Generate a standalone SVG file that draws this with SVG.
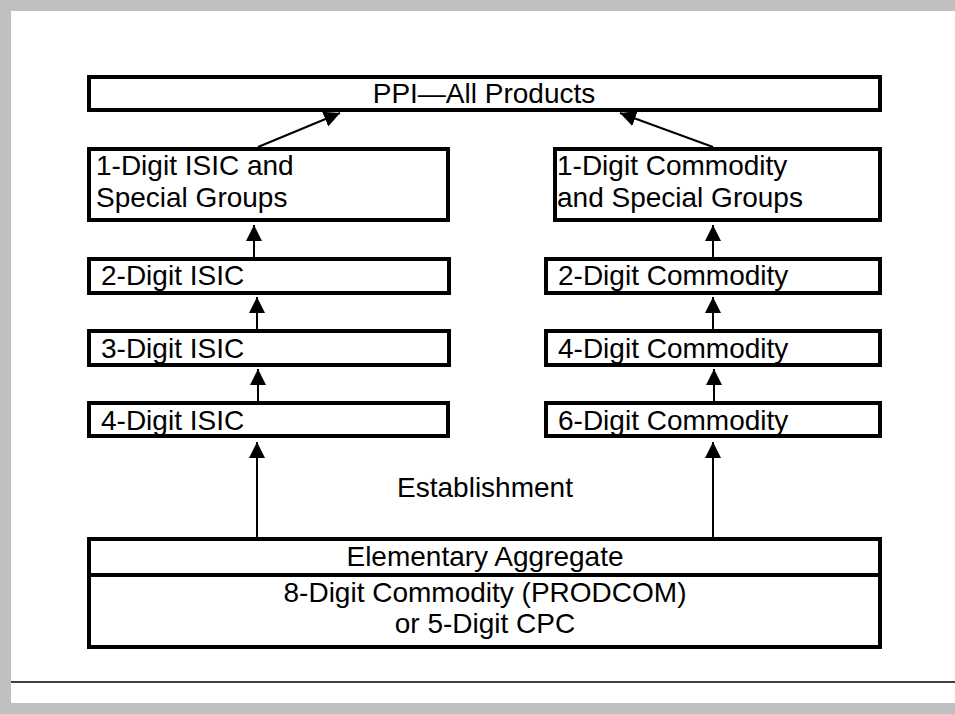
<svg xmlns="http://www.w3.org/2000/svg" width="955" height="714" viewBox="0 0 955 714">
<defs>
<style>
.box{fill:#fff;stroke:#000;stroke-width:4}
.t{font-family:"Liberation Sans",Arial,sans-serif;font-size:28px;fill:#000}
.c{text-anchor:middle}
.con{stroke:#000;stroke-width:2;fill:none;marker-end:url(#ah)}
</style>
<marker id="ah" markerUnits="userSpaceOnUse" markerWidth="16" markerHeight="16" viewBox="0 0 16 16" refX="16" refY="8" orient="auto">
<path d="M0,0 L16,8 L0,16 Z" fill="#000"/>
</marker>
</defs>
<rect x="0" y="0" width="955" height="714" fill="#fff"/>
<g id="frame">
<rect x="0" y="0" width="955" height="11" fill="#c0c0c0"/>
<rect x="0" y="0" width="11" height="714" fill="#c0c0c0"/>
<rect x="0" y="703" width="955" height="11" fill="#c0c0c0"/>
<line x1="11" y1="682" x2="955" y2="682" stroke="#000" stroke-width="1.5"/>
</g>
<g id="connectors">
<line class="con" x1="258" y1="147" x2="340" y2="113"/>
<line class="con" x1="713" y1="147" x2="620" y2="113"/>
<line class="con" x1="254" y1="257" x2="254" y2="225"/>
<line class="con" x1="257" y1="329" x2="257" y2="297"/>
<line class="con" x1="258" y1="401" x2="258" y2="369"/>
<line class="con" x1="713" y1="257" x2="713" y2="225"/>
<line class="con" x1="713" y1="329" x2="713" y2="297"/>
<line class="con" x1="714" y1="401" x2="714" y2="369"/>
<line class="con" x1="257" y1="537" x2="257" y2="442"/>
<line class="con" x1="713" y1="537" x2="713" y2="442"/>
</g>
<g id="ppi">
<rect class="box" x="89" y="77" width="791" height="33"/>
<text class="t c" x="484" y="103">PPI—All Products</text>
</g>
<g id="isic1">
<rect class="box" x="89" y="149" width="359" height="71"/>
<text class="t" x="96" y="175">1-Digit ISIC and</text>
<text class="t" x="96" y="207">Special Groups</text>
</g>
<g id="comm1">
<rect class="box" x="555" y="149" width="325" height="71"/>
<text class="t" x="557" y="175">1-Digit Commodity</text>
<text class="t" x="557" y="207">and Special Groups</text>
</g>
<g id="isic2">
<rect class="box" x="89" y="259" width="360" height="34"/>
<text class="t" x="101" y="285">2-Digit ISIC</text>
</g>
<g id="isic3">
<rect class="box" x="89" y="331" width="360" height="34"/>
<text class="t" x="101" y="358">3-Digit ISIC</text>
</g>
<g id="isic4">
<rect class="box" x="89" y="403" width="359" height="33"/>
<text class="t" x="101" y="430">4-Digit ISIC</text>
</g>
<g id="comm2">
<rect class="box" x="546" y="259" width="334" height="34"/>
<text class="t" x="558" y="285">2-Digit Commodity</text>
</g>
<g id="comm4">
<rect class="box" x="546" y="331" width="334" height="34"/>
<text class="t" x="558" y="358">4-Digit Commodity</text>
</g>
<g id="comm6">
<rect class="box" x="546" y="403" width="334" height="33"/>
<text class="t" x="558" y="430">6-Digit Commodity</text>
</g>
<g id="establishment">
<text class="t c" x="485" y="497">Establishment</text>
</g>
<g id="elementary">
<rect class="box" x="89" y="539" width="791" height="108"/>
<line x1="89" y1="575" x2="880" y2="575" stroke="#000" stroke-width="4"/>
<text class="t c" x="485" y="566">Elementary Aggregate</text>
<text class="t c" x="485" y="602">8-Digit Commodity (PRODCOM)</text>
<text class="t c" x="485" y="633">or 5-Digit CPC</text>
</g>
</svg>
